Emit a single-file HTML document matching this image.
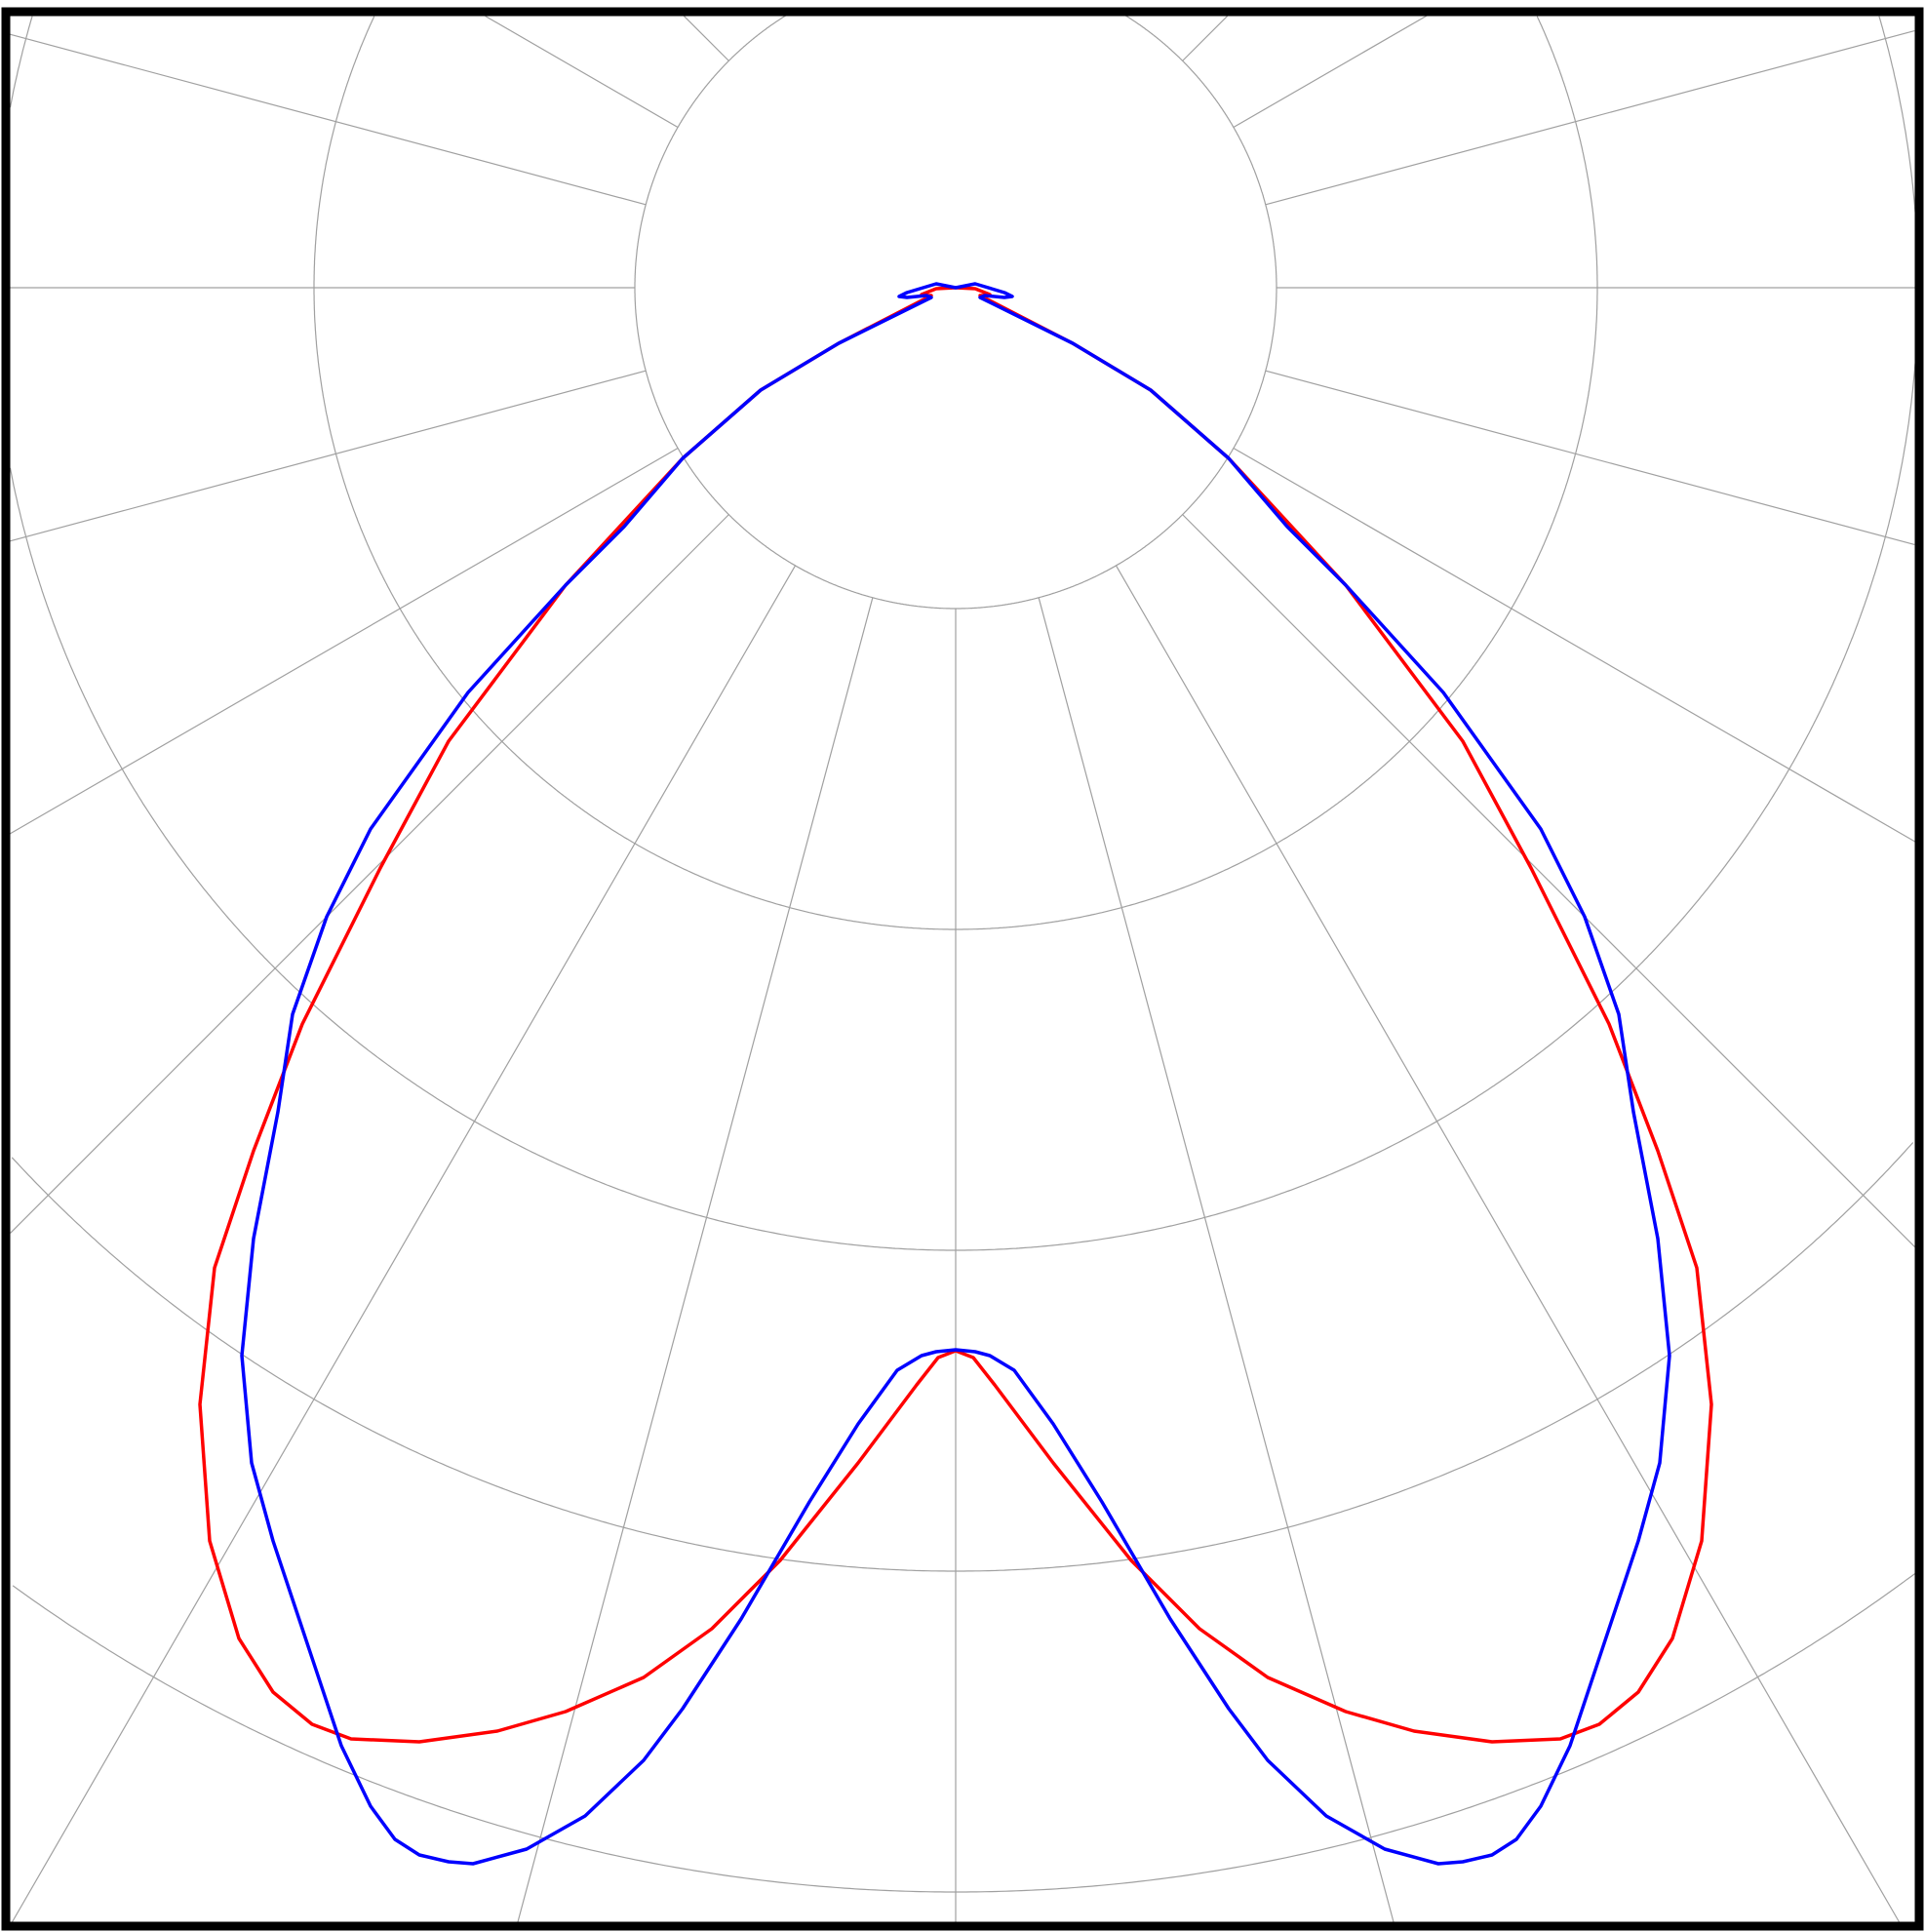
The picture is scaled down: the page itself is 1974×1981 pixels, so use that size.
<!DOCTYPE html>
<html><head><style>html,body{margin:0;padding:0;background:#fff;overflow:hidden;width:1974px;height:1981px;position:relative}svg{display:block;position:absolute;left:0;top:0}</style></head>
<body>
<svg width="1974" height="1981" viewBox="0 0 1974 1981" overflow="hidden" xmlns="http://www.w3.org/2000/svg">
<rect width="1974" height="1981" fill="#fff"/>
<g id="grid" fill="none" stroke="#a0a0a0" stroke-width="1.2"></g>
<g id="curves" fill="none" stroke-width="3.5" stroke-linejoin="round"></g>
<rect x="6" y="12" width="1962" height="1963" fill="none" stroke="#000" stroke-width="9"/>
<script>
var ns="http://www.w3.org/2000/svg",g=document.getElementById('grid');
var X0=10,Y0=16,X1=1964,Y1=1971,cx=980,cy=295;
function inside(x,y){return x>=X0&&x<=X1&&y>=Y0&&y<=Y1;}
// radial lines
for(var a=0;a<360;a+=15){var t=a*Math.PI/180,s=Math.sin(t),c=Math.cos(t);
 var r0=329,r=r0;while(inside(cx+(r+1)*s,cy+(r+1)*c))r+=1;
 if(r<=r0)continue;
 var l=document.createElementNS(ns,'line');l.setAttribute('x1',cx+r0*s);l.setAttribute('y1',cy+r0*c);
 l.setAttribute('x2',cx+r*s);l.setAttribute('y2',cy+r*c);g.appendChild(l);}
// circles as clipped polylines
[329,658,987,1316,1645,1974].forEach(function(R){
 var N=2000,seg=[];
 function flush(){if(seg.length>1){var p=document.createElementNS(ns,'polyline');p.setAttribute('points',seg.join(' '));g.appendChild(p);}seg=[];}
 for(var i=0;i<=N;i++){var t=i/N*2*Math.PI,x=cx+R*Math.sin(t),y=cy+R*Math.cos(t);
  if(inside(x,y))seg.push(x.toFixed(1)+','+y.toFixed(1));else flush();}
 flush();
});
var red=[[980,295],[1000,296],[1015,302],[1007,303],[1005,303],[1100,352],[1180,400],[1260,470],[1380,600],[1500,760],[1570,890],[1650,1050],[1700,1180],[1740,1300],[1755,1440],[1745,1580],[1715,1680],[1680,1735],[1640,1768],[1600,1783],[1530,1786],[1450,1775],[1380,1755],[1300,1720],[1230,1670],[1160,1600],[1080,1500],[1020,1420],[998,1392],[980,1385]];
var blue=[[980,295],[1000,291],[1030,300],[1038,304],[1030,305],[1010,303],[1005,305],[1100,352],[1180,400],[1260,470],[1320,540],[1380,600],[1480,710],[1580,850],[1625,940],[1660,1040],[1675,1140],[1700,1270],[1712,1390],[1702,1500],[1680,1580],[1640,1700],[1610,1790],[1580,1852],[1555,1886],[1530,1902],[1500,1909],[1475,1911],[1420,1896],[1360,1862],[1300,1805],[1260,1752],[1200,1660],[1130,1540],[1080,1460],[1040,1405],[1015,1390],[1000,1386],[980,1384]];
function path(p,col){var pts=p.slice();var m=p.slice().reverse().map(function(q){return [1960-q[0],q[1]];});
var all=m.concat(pts.slice(1));var d='M'+all.map(function(q){return q[0]+','+q[1]}).join(' L');
var e=document.createElementNS(ns,'path');e.setAttribute('d',d+'Z');e.setAttribute('stroke',col);document.getElementById('curves').appendChild(e);}
path(red,'#ff0000');path(blue,'#0000ff');
</script>
</svg>
</body></html>
